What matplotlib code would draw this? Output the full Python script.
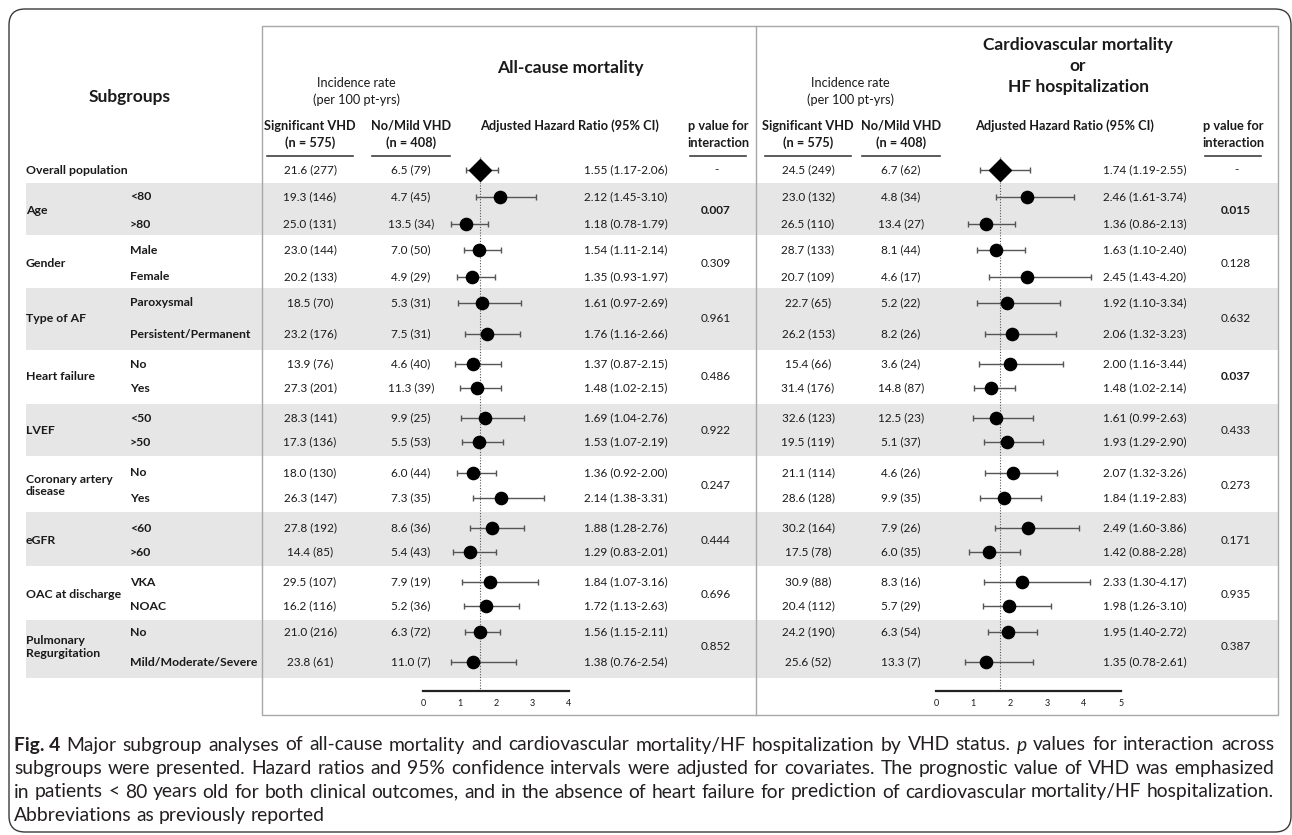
import matplotlib
matplotlib.use("Agg")
import matplotlib.pyplot as plt
from matplotlib import font_manager
from matplotlib.patches import FancyBboxPatch, Rectangle

plt.rcParams['font.family'] = ['Lato', 'DejaVu Sans']

W, H = 1292, 835

# ---- table data -------------------------------------------------------------
groups = ["Overall population", "Age", "Gender", "Type of AF", "Heart failure", "LVEF",
          "Coronary artery\ndisease", "eGFR", "OAC at discharge", "Pulmonary\nRegurgitation"]
group_sizes = [1, 2, 2, 2, 2, 2, 2, 2, 2, 2]
sub_labels = ["", "<80", ">80", "Male", "Female", "Paroxysmal", "Persistent/Permanent", "No", "Yes",
              "<50", ">50", "No", "Yes", "<60", ">60", "VKA", "NOAC", "No", "Mild/Moderate/Severe"]

# all-cause mortality
acm_sig_rate = [21.6, 19.3, 25.0, 23.0, 20.2, 18.5, 23.2, 13.9, 27.3, 28.3, 17.3, 18.0, 26.3, 27.8, 14.4, 29.5, 16.2, 21.0, 23.8]
acm_sig_n = [277, 146, 131, 144, 133, 70, 176, 76, 201, 141, 136, 130, 147, 192, 85, 107, 116, 216, 61]
acm_mild_rate = [6.5, 4.7, 13.5, 7.0, 4.9, 5.3, 7.5, 4.6, 11.3, 9.9, 5.5, 6.0, 7.3, 8.6, 5.4, 7.9, 5.2, 6.3, 11.0]
acm_mild_n = [79, 45, 34, 50, 29, 31, 31, 40, 39, 25, 53, 44, 35, 36, 43, 19, 36, 72, 7]
acm_hr = [1.55, 2.12, 1.18, 1.54, 1.35, 1.61, 1.76, 1.37, 1.48, 1.69, 1.53, 1.36, 2.14, 1.88, 1.29, 1.84, 1.72, 1.56, 1.38]
acm_lo = [1.17, 1.45, 0.78, 1.11, 0.93, 0.97, 1.16, 0.87, 1.02, 1.04, 1.07, 0.92, 1.38, 1.28, 0.83, 1.07, 1.13, 1.15, 0.76]
acm_hi = [2.06, 3.10, 1.79, 2.14, 1.97, 2.69, 2.66, 2.15, 2.15, 2.76, 2.19, 2.00, 3.31, 2.76, 2.01, 3.16, 2.63, 2.11, 2.54]
acm_p = ["-", "0.007", "0.309", "0.961", "0.486", "0.922", "0.247", "0.444", "0.696", "0.852"]

# cardiovascular mortality or HF hospitalization
cv_sig_rate = [24.5, 23.0, 26.5, 28.7, 20.7, 22.7, 26.2, 15.4, 31.4, 32.6, 19.5, 21.1, 28.6, 30.2, 17.5, 30.9, 20.4, 24.2, 25.6]
cv_sig_n = [249, 132, 110, 133, 109, 65, 153, 66, 176, 123, 119, 114, 128, 164, 78, 88, 112, 190, 52]
cv_mild_rate = [6.7, 4.8, 13.4, 8.1, 4.6, 5.2, 8.2, 3.6, 14.8, 12.5, 5.1, 4.6, 9.9, 7.9, 6.0, 8.3, 5.7, 6.3, 13.3]
cv_mild_n = [62, 34, 27, 44, 17, 22, 26, 24, 87, 23, 37, 26, 35, 26, 35, 16, 29, 54, 7]
cv_hr = [1.74, 2.46, 1.36, 1.63, 2.45, 1.92, 2.06, 2.00, 1.48, 1.61, 1.93, 2.07, 1.84, 2.49, 1.42, 2.33, 1.98, 1.95, 1.35]
cv_lo = [1.19, 1.61, 0.86, 1.10, 1.43, 1.10, 1.32, 1.16, 1.02, 0.99, 1.29, 1.32, 1.19, 1.60, 0.88, 1.30, 1.26, 1.40, 0.78]
cv_hi = [2.55, 3.74, 2.13, 2.40, 4.20, 3.34, 3.23, 3.44, 2.14, 2.63, 2.90, 3.26, 2.83, 3.86, 2.28, 4.17, 3.10, 2.72, 2.61]
cv_p = ["-", "0.015", "0.128", "0.632", "0.037", "0.433", "0.273", "0.171", "0.935", "0.387"]

caption_lines = [
    [("Fig. 4", "bold"), ("Major", ""), ("subgroup", ""), ("analyses", ""), ("of", ""), ("all-cause", ""),
     ("mortality", ""), ("and", ""), ("cardiovascular", ""), ("mortality/HF", ""), ("hospitalization", ""),
     ("by", ""), ("VHD", ""), ("status.", ""), ("p", "italic"), ("values", ""), ("for", ""),
     ("interaction", ""), ("across", "")],
    "subgroups were presented. Hazard ratios and 95% confidence intervals were adjusted for covariates. "
    "The prognostic value of VHD was emphasized",
    "in patients < 80 years old for both clinical outcomes, and in the absence of heart failure for "
    "prediction of cardiovascular mortality/HF hospitalization.",
    "Abbreviations as previously reported",
]

# ---- layout (pixels) --------------------------------------------------------
row_y = [170, 197, 224, 250, 277, 303, 334, 364, 388, 418, 442, 473, 498, 528, 552, 582, 606, 632, 662]
band_edges = [183, 235, 288, 350, 404, 456, 512, 566, 620, 678]
TXT = '#1a1a1a'
BAND = '#e6e6e6'
FS = 8.5        # table values
FS_LAB = 8.8    # bold row labels
FS_HEAD = 9.2   # column headers
FS_TITLE = 12.5

fig = plt.figure(figsize=(W / 100, H / 100), dpi=100)
bg = fig.add_axes([0, 0, 1, 1])
bg.set_xlim(0, W)
bg.set_ylim(H, 0)
bg.axis('off')

# outer frame and table box
bg.add_patch(FancyBboxPatch((9, 9), 1282, 823, boxstyle="round,pad=0,rounding_size=16",
                            fc='none', ec='#3a3a3a', lw=1.0))
for i in range(len(band_edges) - 1):
    if i % 2 == 0:
        bg.add_patch(Rectangle((26, band_edges[i]), 1278 - 26, band_edges[i + 1] - band_edges[i],
                               fc=BAND, ec='none', zorder=0))
bg.add_patch(Rectangle((262, 26), 1278 - 262, 715 - 26, fc='none', ec='#a8a8a8', lw=1.0, zorder=1))
bg.plot([756, 756], [26, 715], color='#a8a8a8', lw=1.0, zorder=1)


def txt(x, y, s, ha='center', size=FS, weight='normal', **kw):
    return bg.text(x, y, s, ha=ha, va='center', fontsize=size, fontweight=weight, color=TXT, **kw)


# left label columns
txt(130, 97, "Subgroups", size=FS_TITLE, weight='bold')
start = 0
for g, n in zip(groups, group_sizes):
    ys = row_y[start:start + n]
    txt(26, sum(ys) / n, g, ha='left', size=FS_LAB, weight='bold', linespacing=1.2)
    for k in range(n):
        if sub_labels[start + k]:
            txt(130, ys[k], sub_labels[start + k], ha='left', size=FS_LAB, weight='bold')
    start += n

panels = [
    dict(title="All-cause mortality", title_x=570, sig=310, mild=411, hr_head=570,
         hr_txt=626, p=716, p_head=718, zero=423, unit=36.5, ticks=range(5), ax_lr=(412, 600),
         sig_rate=acm_sig_rate, sig_n=acm_sig_n, mild_rate=acm_mild_rate, mild_n=acm_mild_n,
         hr=acm_hr, lo=acm_lo, hi=acm_hi, pv=acm_p),
    dict(title="Cardiovascular mortality\nor\nHF hospitalization", title_x=1078, sig=808,
         mild=901, hr_head=1065, hr_txt=1145, p=1236, p_head=1233, zero=936, unit=37.0, ticks=range(6),
         ax_lr=(925, 1135), sig_rate=cv_sig_rate, sig_n=cv_sig_n, mild_rate=cv_mild_rate,
         mild_n=cv_mild_n, hr=cv_hr, lo=cv_lo, hi=cv_hi, pv=cv_p),
]

for P in panels:
    title_y = 68 if "\n" not in P['title'] else 66
    txt(P['title_x'], title_y, P['title'], size=FS_TITLE, weight='bold', linespacing=1.4)
    inc_x = (P['sig'] + P['mild']) / 2 - 4
    txt(inc_x, 83, "Incidence rate", size=FS_HEAD)
    txt(inc_x, 100, "(per 100 pt-yrs)", size=FS_HEAD)
    txt(P['sig'], 126, "Significant VHD", size=FS_HEAD, weight='bold')
    txt(P['sig'], 143, "(n = 575)", size=FS_HEAD, weight='bold')
    txt(P['mild'], 126, "No/Mild VHD", size=FS_HEAD, weight='bold')
    txt(P['mild'], 143, "(n = 408)", size=FS_HEAD, weight='bold')
    txt(P['hr_head'], 126, "Adjusted Hazard Ratio (95% CI)", size=FS_HEAD, weight='bold')
    txt(P['p_head'], 126, "p value for", size=FS_HEAD, weight='bold')
    txt(P['p_head'], 143, "interaction", size=FS_HEAD, weight='bold')
    for cx, half in [(P['sig'], 43), (P['mild'], 39), (P['p_head'], 28)]:
        bg.plot([cx - half, cx + half], [156, 156], color='#404040', lw=1.2)

    for i, y in enumerate(row_y):
        txt(P['sig'], y, f"{P['sig_rate'][i]:.1f} ({P['sig_n'][i]})")
        txt(P['mild'], y, f"{P['mild_rate'][i]:.1f} ({P['mild_n'][i]})")
        txt(P['hr_txt'], y, f"{P['hr'][i]:.2f} ({P['lo'][i]:.2f}-{P['hi'][i]:.2f})")

    start = 0
    for n, pv in zip(group_sizes, P['pv']):
        ys = row_y[start:start + n]
        bold = pv != "-" and float(pv) < 0.05
        txt(P['p'], sum(ys) / n, pv, weight='bold' if bold else 'normal')
        start += n

    # forest plot, x in hazard-ratio units, y in the same pixel rows as the table
    L, R = P['ax_lr']
    top, bottom = 150, 712
    ax = fig.add_axes([L / W, 1 - bottom / H, (R - L) / W, (bottom - top) / H])
    ax.set_xlim((L - P['zero']) / P['unit'], (R - P['zero']) / P['unit'])
    ax.set_ylim(bottom, top)
    ax.patch.set_visible(False)
    for s in ['left', 'right', 'top']:
        ax.spines[s].set_visible(False)
    ax.spines['bottom'].set_position(('data', 691))
    ax.spines['bottom'].set_bounds(0, max(P['ticks']))
    ax.spines['bottom'].set_linewidth(1.6)
    ax.spines['bottom'].set_color('#222222')
    ax.set_yticks([])
    ax.set_xticks(list(P['ticks']))
    ax.tick_params(axis='x', length=0, pad=6, labelsize=6.5, colors=TXT)

    hr, lo, hi = P['hr'], P['lo'], P['hi']
    ax.vlines(hr[0], 157, 691, colors='#555555', linestyles=(0, (1, 1.5)), lw=0.8, zorder=1)
    ax.errorbar(hr, row_y, xerr=[[h - l for h, l in zip(hr, lo)], [u - h for h, u in zip(hr, hi)]],
                fmt='none', ecolor='#555555', elinewidth=1.0, capsize=2.5, capthick=1.0, zorder=2)
    ax.plot(hr[1:], row_y[1:], 'o', ms=8.8, color='black', zorder=3)
    ax.plot(hr[:1], row_y[:1], 'D', ms=11, color='black', zorder=3)

# ---- caption ----------------------------------------------------------------
names = {f.name for f in font_manager.fontManager.ttflist}
cap_family = next((f for f in ["Liberation Sans Narrow", "Lato", "Open Sans"] if f in names), "DejaVu Sans")
renderer = fig.canvas.get_renderer()


def width(s, size, style=""):
    t = bg.text(0, 0, s, fontsize=size, family=cap_family,
                fontweight='bold' if style == "bold" else 'normal',
                fontstyle='italic' if style == "italic" else 'normal')
    w = t.get_window_extent(renderer).width
    t.remove()
    return w


tokens = []
for line in caption_lines:
    if isinstance(line, str):
        tokens.append([(w, "") for w in line.split(" ")])
    else:
        tokens.append(line)

cap_x0, cap_x1 = 14, 1274
size = 12.0
for _ in range(3):
    sp = width("a a", size) - width("aa", size)
    natural = sum(width(w, size, st) for w, st in tokens[2]) + sp * (len(tokens[2]) - 1)
    size *= (cap_x1 - cap_x0) / natural
sp = width("a a", size) - width("aa", size)

for li, toks in enumerate(tokens):
    y = 745 + li * 23.5
    ws = [width(w, size, st) for w, st in toks]
    if li < 3:
        gap = (cap_x1 - cap_x0 - sum(ws)) / (len(toks) - 1)
    else:
        gap = sp
    x = cap_x0
    for (w, st), wd in zip(toks, ws):
        bg.text(x, y, w, ha='left', va='center', fontsize=size, family=cap_family, color='#231f20',
                fontweight='bold' if st == "bold" else 'normal',
                fontstyle='italic' if st == "italic" else 'normal')
        x += wd + gap

fig.savefig("out.png", dpi=100)
